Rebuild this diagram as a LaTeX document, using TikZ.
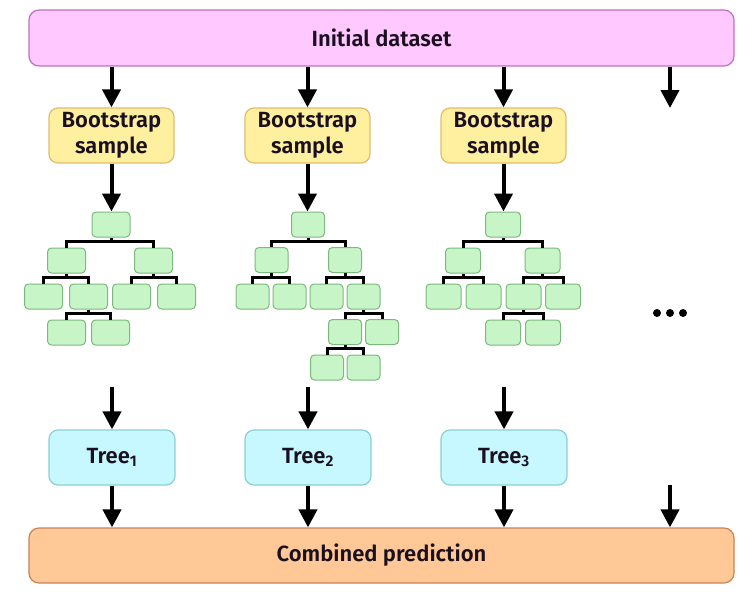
\documentclass[tikz,border=0pt]{standalone}
\usepackage{fontspec}
\setmainfont{Fira Sans}
\newfontfamily\labelfont{Fira Sans}[UprightFont={* SemiBold}]
\usepackage{xcolor}
\usetikzlibrary{arrows.meta, positioning}

\definecolor{datafill}{HTML}{FFC8FF}
\definecolor{dataline}{HTML}{C070C0}
\definecolor{samplefill}{HTML}{FFF0A0}
\definecolor{sampleline}{HTML}{E2BC6A}
\definecolor{leaffill}{HTML}{C8F5C8}
\definecolor{leafline}{HTML}{7DB87D}
\definecolor{treefill}{HTML}{C8F8FF}
\definecolor{treeline}{HTML}{8CCFD2}
\definecolor{predfill}{HTML}{FFC896}
\definecolor{predline}{HTML}{C88450}
\definecolor{textdark}{HTML}{1A1020}

\begin{document}
\begin{tikzpicture}[
	x=1pt, y=-1pt,
	every node/.style={font=\labelfont\fontsize{22}{26}\selectfont, text=textdark, align=center, inner sep=0pt},
	databar/.style={draw=dataline, fill=datafill, rounded corners=10pt, line width=1.2pt, minimum width=705pt, minimum height=56pt},
	predbar/.style={draw=predline, fill=predfill, rounded corners=10pt, line width=1.2pt, minimum width=705pt, minimum height=55pt},
	samplebox/.style={draw=sampleline, fill=samplefill, rounded corners=9pt, line width=1.2pt, minimum width=125pt, minimum height=55pt},
	treebox/.style={draw=treeline, fill=treefill, rounded corners=9pt, line width=1.2pt, minimum width=126pt, minimum height=55pt},
	leafbox/.style={draw=leafline, fill=leaffill, rounded corners=4pt, line width=1pt, minimum width=#1, minimum height=25pt},
	leafbox/.default=35pt,
	branchline/.style={line width=3pt},
	arrow/.style={-{Triangle[width=18pt, length=18pt]}, line width=4pt}
	]
	\useasboundingbox (0,0) rectangle (752,594);
	
	% Nodes
	\node (data) [databar] at (381.5,38) {Initial dataset};
	\node (pred) [predbar] at (381.5,555.5) {Combined prediction};
	
	\node (s1) [samplebox] at (111.5,135.5) {Bootstrap\\sample};
	\node (s2) [samplebox] at (307.5,135.5) {Bootstrap\\sample};
	\node (s3) [samplebox] at (503.5,135.5) {Bootstrap\\sample};
	
	\node (tr1) [treebox] at (112,457.5) {Tree\textsubscript{1}};
	\node (tr2) [treebox] at (308,457.5) {Tree\textsubscript{2}};
	\node (tr3) [treebox] at (504,457.5) {Tree\textsubscript{3}};
	
	% Small trees
	\foreach \n/\x/\y in {r/111/224.5, a/66.5/260.5, b/153.5/260.5, aa/43.5/296.5, ab/88.5/296.5,
			ba/131.5/296.5, bb/176.5/296.5, aba/66.5/332.5, abb/110.5/332.5}
		\node (p\n) [leafbox=38pt] at (\x,\y) {};
	\foreach \n/\x/\y in {r/308/224.5, a/271.5/260, b/345/260, aa/252.5/296.5, ab/289.5/296.5,
			ba/326.5/296.5, bb/363.5/296.5, bba/345/332, bbb/382/332, bbaa/327/367.5, bbab/363.5/367.5}
		\node (q\n) [leafbox=33pt] at (\x,\y) {};
	\foreach \n/\x/\y in {r/503/224.5, a/463/260.5, b/542.5/260.5, aa/443.5/296.5, ab/483.5/296.5,
			ba/523.5/296.5, bb/563/296.5, baa/503/332.5, bab/543/332.5}
		\node (u\n) [leafbox=35pt] at (\x,\y) {};
	
	\foreach \p/\l/\r in {pr/pa/pb, pa/paa/pab, pb/pba/pbb, pab/paba/pabb,
			qr/qa/qb, qa/qaa/qab, qb/qba/qbb, qbb/qbba/qbbb, qbba/qbbaa/qbbab,
			ur/ua/ub, ua/uaa/uab, ub/uba/ubb, uba/ubaa/ubab} {
		\draw [branchline] (\l.north) -- ++(0,-6) -| (\r.north);
		\draw [branchline] (\p.south) -- ++(0,5);
	}
	
	% Free ends
	\coordinate (c4top) at (670,108);
	\coordinate (c4bot) at (670,485);
	\coordinate (e1) at (112,387);
	\coordinate (e2) at (308,387);
	\coordinate (e3) at (504,387);
	
	% Dots
	\foreach \dx in {-13,0,13}
		\fill (670+\dx,313) circle (4pt);
	
	% Connections
	\draw [arrow] (data.south -| s1.north) -- (s1.north);
	\draw [arrow] (data.south -| s2.north) -- (s2.north);
	\draw [arrow] (data.south -| s3.north) -- (s3.north);
	\draw [arrow] (data.south -| c4top) -- (c4top);
	
	\draw [arrow] (s1.south) -- (s1.south |- pr.north);
	\draw [arrow] (s2.south) -- (s2.south |- qr.north);
	\draw [arrow] (s3.south) -- (s3.south |- ur.north);
	
	\draw [arrow] (e1) -- (tr1.north);
	\draw [arrow] (e2) -- (tr2.north);
	\draw [arrow] (e3) -- (tr3.north);
	
	\draw [arrow] (tr1.south) -- (pred.north -| tr1.south);
	\draw [arrow] (tr2.south) -- (pred.north -| tr2.south);
	\draw [arrow] (tr3.south) -- (pred.north -| tr3.south);
	\draw [arrow] (c4bot) -- (pred.north -| c4bot);
	
\end{tikzpicture}
\end{document}
